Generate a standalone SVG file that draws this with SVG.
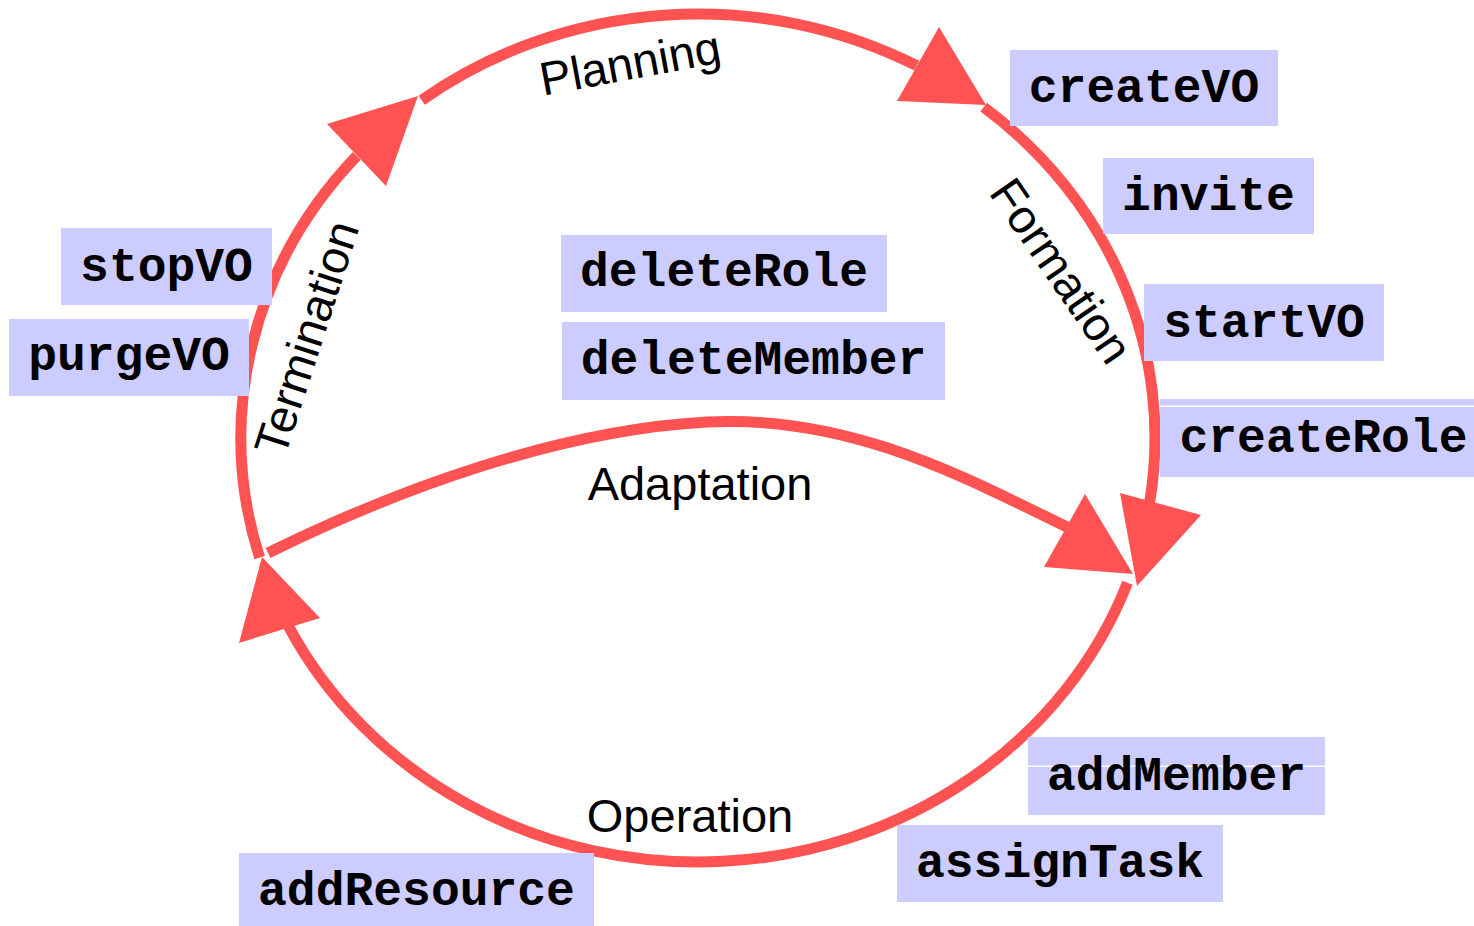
<svg xmlns="http://www.w3.org/2000/svg" width="1474" height="926" viewBox="0 0 1474 926">
<style>
.edge{fill:none;stroke:#ff5252;stroke-width:11}
.ah{fill:#ff5252;stroke:none}
.elab{font-family:"Liberation Sans",Arial,Helvetica,sans-serif;font-size:47px;fill:#000;text-anchor:middle}
.box{fill:#ccccff;stroke:none}
.op{font-family:"Liberation Mono","Courier New",monospace;font-weight:bold;font-size:48px;fill:#000;text-anchor:middle}
</style>
<rect x="0" y="0" width="1474" height="926" fill="#ffffff"/>
<g id="connectors">
  <path id="e-termination" class="edge" d="M259.6,557.7 A457,424 0 0 1 356.8,155.9"/>
  <polygon class="ah" points="418,96 327,124 386,186"/>
  <path id="e-planning" class="edge" d="M421.7,100.3 A457,424 0 0 1 916.8,65.7"/>
  <polygon class="ah" points="939,27 897,101 986,105"/>
  <path id="e-formation" class="edge" d="M983.7,107.1 A457,424 0 0 1 1149.6,502.9"/>
  <polygon class="ah" points="1120,493 1201,515 1137,586"/>
  <path id="e-operation" class="edge" d="M1127.5,582.8 A457,424 0 0 1 288.3,625.9"/>
  <polygon class="ah" points="239,643 320,618 262,557"/>
  <path id="e-adaptation" class="edge" d="M268,553 C400,488 560,430 707,422 C850,415 960,475 1067,527"/>
  <polygon class="ah" points="1085,494 1044,567 1133,574"/>
  <text class="elab" x="633" y="79" transform="rotate(-10.5 633 79)">Planning</text>
  <text class="elab" x="1048" y="280" transform="rotate(55.5 1048 280)">Formation</text>
  <text class="elab" x="322" y="343" transform="rotate(-72 322 343)">Termination</text>
  <text class="elab" x="700" y="500">Adaptation</text>
  <text class="elab" x="690" y="832">Operation</text>
</g>
<g id="createVO"><rect class="box" x="1010" y="50" width="268" height="76"/><text class="op" x="1144" y="102">createVO</text></g>
<g id="invite"><rect class="box" x="1103" y="158" width="211" height="76"/><text class="op" x="1208.5" y="210">invite</text></g>
<g id="startVO"><rect class="box" x="1144" y="284" width="240" height="77"/><text class="op" x="1264" y="337">startVO</text></g>
<g id="createRole"><rect class="box" x="1160" y="399" width="327" height="6.5"/><rect class="box" x="1160" y="407" width="327" height="70"/><text class="op" x="1323.5" y="452">createRole</text></g>
<g id="stopVO"><rect class="box" x="61" y="228" width="211" height="77"/><text class="op" x="166.5" y="281">stopVO</text></g>
<g id="purgeVO"><rect class="box" x="9" y="319" width="240" height="77"/><text class="op" x="129" y="370">purgeVO</text></g>
<g id="deleteRole"><rect class="box" x="561" y="235" width="326" height="77"/><text class="op" x="724" y="286">deleteRole</text></g>
<g id="deleteMember"><rect class="box" x="562" y="322" width="383" height="78"/><text class="op" x="753.5" y="374">deleteMember</text></g>
<g id="addMember"><rect class="box" x="1028" y="737" width="297" height="28.5"/><rect class="box" x="1028" y="767" width="297" height="48"/><text class="op" x="1176.5" y="790">addMember</text></g>
<g id="assignTask"><rect class="box" x="897" y="825" width="326" height="77"/><text class="op" x="1060" y="877">assignTask</text></g>
<g id="addResource"><rect class="box" x="239" y="853" width="355" height="76"/><text class="op" x="416.5" y="905">addResource</text></g>
</svg>
